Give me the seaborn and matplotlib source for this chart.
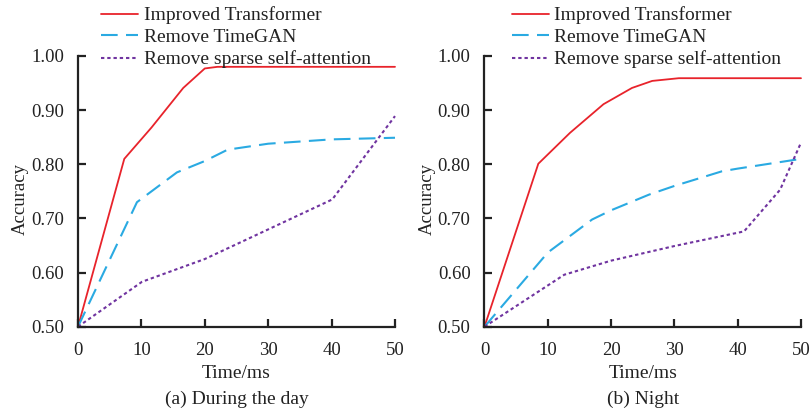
import numpy as np
import pandas as pd
import matplotlib
matplotlib.use("Agg")
import matplotlib.pyplot as plt
import seaborn as sns

# ---- data ----
series_labels = ["Improved Transformer", "Remove TimeGAN", "Remove sparse self-attention"]
panel_captions = ["(a) During the day", "(b) Night"]
x_ticks = [0, 10, 20, 30, 40, 50]
y_ticks = [0.50, 0.60, 0.70, 0.80, 0.90, 1.00]

day_x_imp = [0, 7.3, 11.6, 16.6, 20, 22, 50]
day_y_imp = [0.5, 0.81, 0.868, 0.941, 0.977, 0.98, 0.98]
day_x_gan = [0, 9.3, 15.6, 20, 23.6, 30, 40, 50]
day_y_gan = [0.5, 0.73, 0.785, 0.806, 0.827, 0.838, 0.846, 0.849]
day_x_sp = [0, 10.1, 20, 40.1, 50]
day_y_sp = [0.5, 0.583, 0.625, 0.735, 0.889]

night_x_imp = [0, 8.5, 13.5, 18.8, 23.3, 26.5, 30.7, 50]
night_y_imp = [0.5, 0.801, 0.858, 0.911, 0.941, 0.954, 0.959, 0.959]
night_x_gan = [0, 10, 17, 20, 26, 30, 37.5, 40, 50]
night_y_gan = [0.5, 0.637, 0.698, 0.715, 0.744, 0.76, 0.787, 0.792, 0.81]
night_x_sp = [0, 12.6, 20, 30, 41, 46.7, 50]
night_y_sp = [0.5, 0.596, 0.622, 0.649, 0.676, 0.753, 0.84]

colors = ["#E8232B", "#2AAAE2", "#7034A0"]
styles = ["-", (0, (8, 4)), (0, (1.6, 1.4))]
widths = [1.3, 1.5, 1.5]

sns.set_style("ticks")
plt.rcParams["font.family"] = ["Liberation Serif", "DejaVu Serif"]

fig = plt.figure(figsize=(8.1, 4.12), dpi=100)
ax_l = fig.add_axes([78 / 810, 1 - 326.7 / 412, 317 / 810, 270.7 / 412])
ax_r = fig.add_axes([484.5 / 810, 1 - 326.7 / 412, 316.5 / 810, 270.7 / 412])

panels = [
    (ax_l, [(day_x_imp, day_y_imp), (day_x_gan, day_y_gan), (day_x_sp, day_y_sp)], panel_captions[0], 0.073),
    (ax_r, [(night_x_imp, night_y_imp), (night_x_gan, night_y_gan), (night_x_sp, night_y_sp)], panel_captions[1], 0.086),
]

fs = 13.5
lfs = 14
tc = "#222222"
for ax, series, caption, lx in panels:
    for (xs, ys), lab, c, ls, lw in zip(series, series_labels, colors, styles, widths):
        sns.lineplot(x=xs, y=ys, ax=ax, color=c, linestyle=ls, linewidth=lw,
                     label=lab, sort=False, estimator=None, clip_on=False)
    ax.set_xlim(0, 50)
    ax.set_ylim(0.5, 1.0)
    ax.set_xticks(x_ticks)
    ax.set_yticks(y_ticks)
    ax.set_yticklabels([f"{v:.2f}" for v in y_ticks])
    for s in ["top", "right"]:
        ax.spines[s].set_visible(False)
    for s in ["left", "bottom"]:
        ax.spines[s].set_linewidth(1.6)
        ax.spines[s].set_color(tc)
    ax.tick_params(direction="in", length=6, width=1.6, color=tc,
                   labelsize=fs, labelcolor=tc)
    ax.tick_params(axis="y", pad=10)
    ax.tick_params(axis="x", pad=11)
    ax.set_xlabel("Time/ms", fontsize=lfs, color=tc)
    ax.xaxis.set_label_coords(0.5, -0.14)
    ax.set_ylabel("Accuracy", fontsize=fs, color=tc)
    ax.yaxis.set_label_coords(-0.155, 0.47)
    ax.text(0.5, -0.268, caption, transform=ax.transAxes, ha="center", va="center",
            fontsize=lfs, color=tc)
    ax.legend(loc="upper left", bbox_to_anchor=(lx, 1.183), frameon=False,
              fontsize=lfs, handlelength=1.9, handletextpad=0.3, labelspacing=0.22,
              borderpad=0, borderaxespad=0, labelcolor=tc)

fig.savefig("out.png", dpi=100)
